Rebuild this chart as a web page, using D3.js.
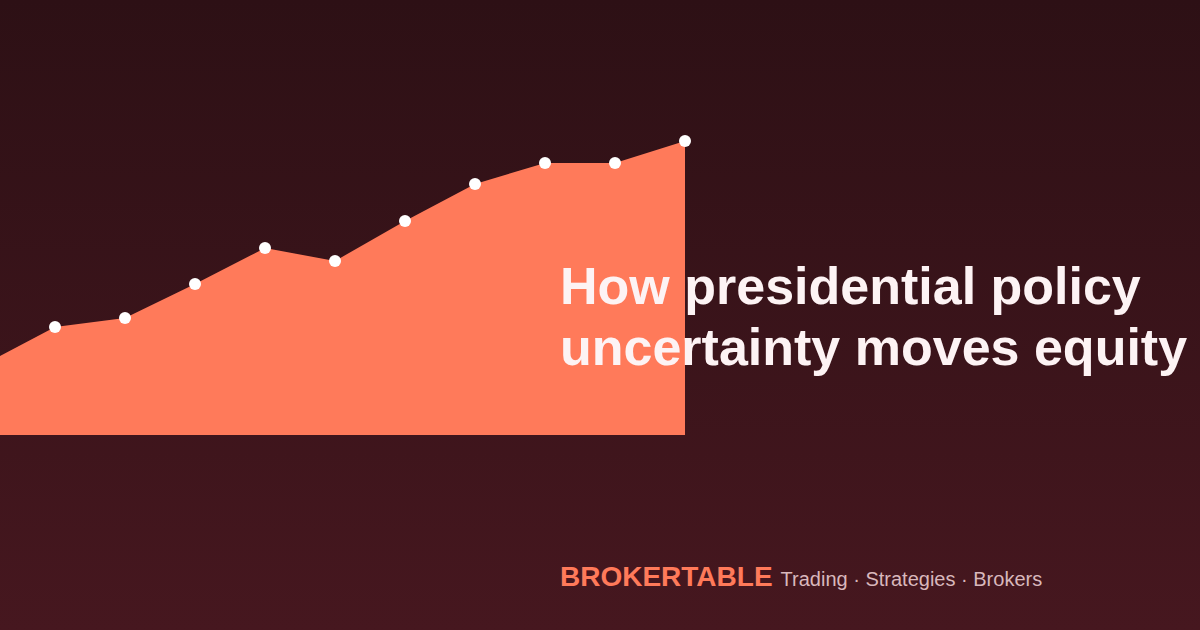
<!DOCTYPE html>
<html><head><meta charset="utf-8">
<script src="https://cdn.jsdelivr.net/npm/d3@7"></script>
<style>html,body{margin:0;padding:0;background:#2d1015}</style>
</head><body>
<svg id="c" width="1200" height="630"></svg>
<script>
const periods = [0,1,2,3,4,5,6,7,8,9,10];
const values = [71,108,117,151,187,174,214,251,272,272,294];
const titleLines = ["How presidential policy","uncertainty moves equity"];
const brand = "BROKERTABLE";
const tagline = "Trading · Strategies · Brokers";

const svg = d3.select("#c");
const defs = svg.append("defs");
const g = defs.append("linearGradient").attr("id","bg").attr("x1",0).attr("y1",0).attr("x2",0).attr("y2",1);
g.append("stop").attr("offset","0%").attr("stop-color","#2d1015");
g.append("stop").attr("offset","100%").attr("stop-color","#46171f");
svg.append("rect").attr("width",1200).attr("height",630).attr("fill","url(#bg)");

const x = d3.scaleLinear().domain([0,10]).range([-15,685]);
const y = d3.scaleLinear().domain([0,300]).range([435,135]);
const area = d3.area().x((d,i)=>x(periods[i])).y0(y(0)).y1(d=>y(d));
svg.append("path").datum(values).attr("d",area).attr("fill","#ff7a5a");
svg.selectAll("circle.p").data(values.slice(1)).join("circle")
  .attr("cx",(d,i)=>x(periods[i+1])).attr("cy",d=>y(d)).attr("r",6).attr("fill","#fff");

const t = svg.append("text").attr("font-family","Liberation Sans, Arial, sans-serif")
  .attr("font-weight","bold").attr("font-size",52).attr("fill","#fdf3f4");
titleLines.forEach((l,i)=>t.append("tspan").attr("x",560).attr("y",304+i*61).text(l));

const f = svg.append("text").attr("x",560).attr("y",586).attr("font-family","Liberation Sans, Arial, sans-serif");
f.append("tspan").attr("font-weight","bold").attr("font-size",28).attr("fill","#ff7a5a").text(brand);
f.append("tspan").attr("dx",8).attr("font-size",20).attr("fill","#d9b8bc").text(tagline);
</script>
</body></html>
